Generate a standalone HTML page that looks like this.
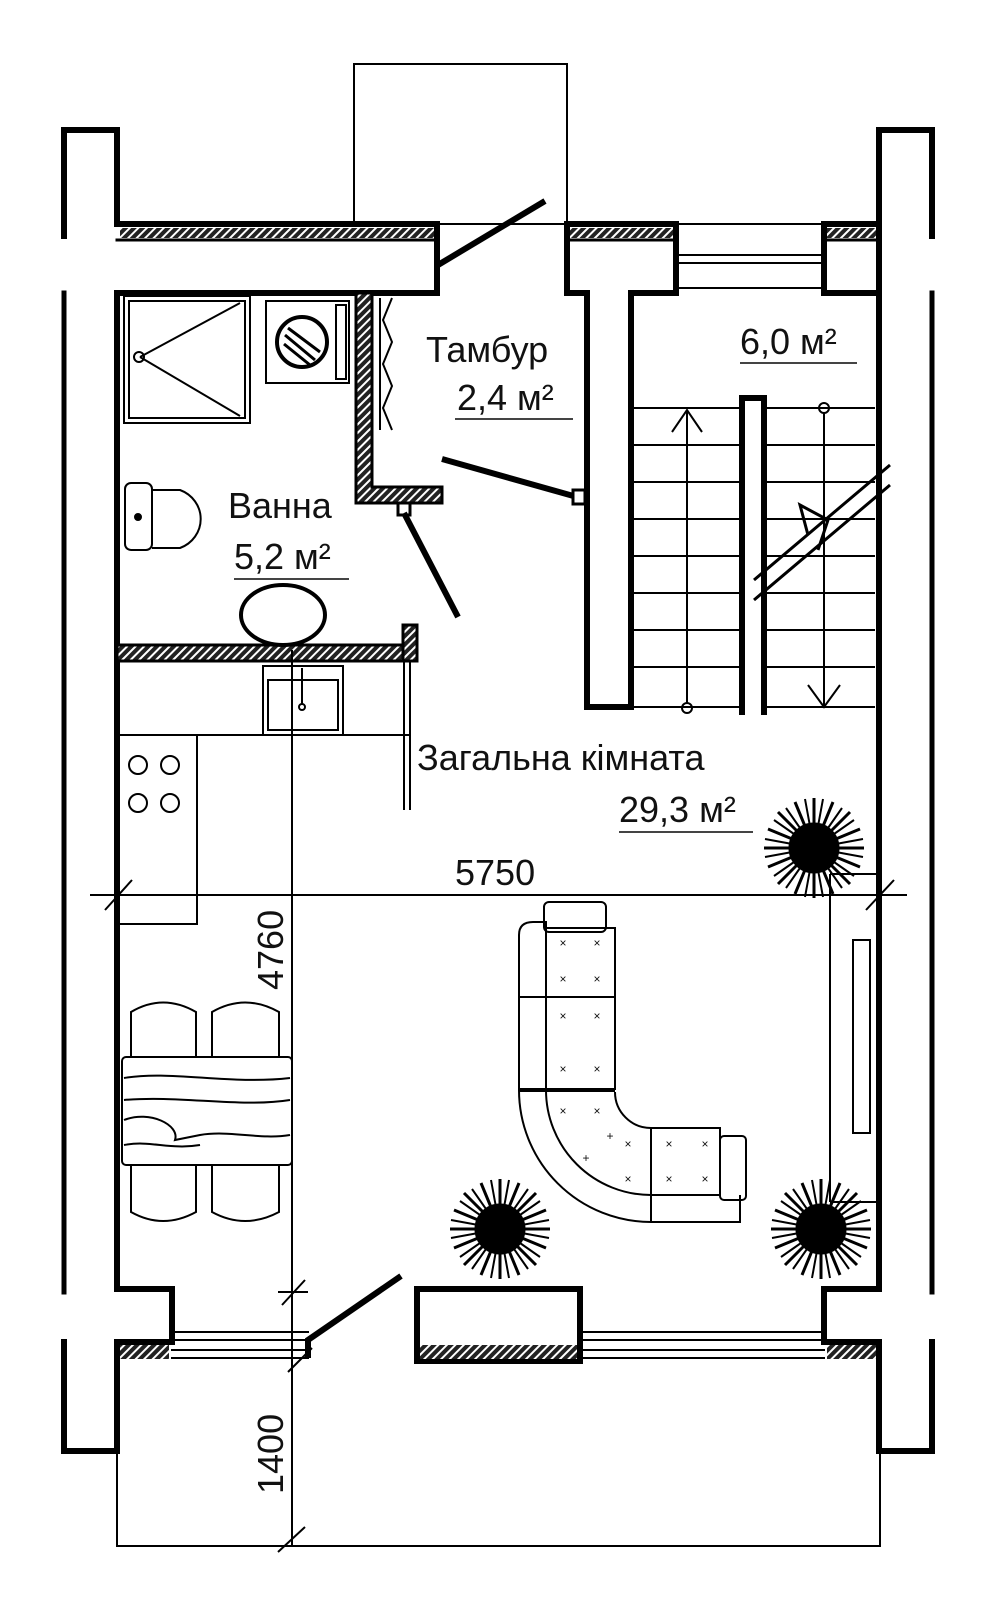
<!DOCTYPE html>
<html><head><meta charset="utf-8"><style>
html,body{margin:0;padding:0;background:#fff}
svg{display:block}
text{font-family:"Liberation Sans",sans-serif;fill:#111}
</style></head><body>
<svg width="1000" height="1624" viewBox="0 0 1000 1624" xmlns="http://www.w3.org/2000/svg">
<defs>
<pattern id="h" width="6" height="6" patternUnits="userSpaceOnUse" patternTransform="rotate(45)">
<rect width="6" height="6" fill="#222"/><rect width="2" height="6" fill="#fff"/>
</pattern>
<g id="pl" stroke="#000" stroke-width="3">
<circle r="24" fill="#000"/>
<path d="M-50 0 H50 M0 -50 V50 M-36 -36 L36 36 M-36 36 L36 -36 M-46 -19 L46 19 M-46 19 L46 -19 M-19 -46 L19 46 M19 -46 L-19 46"/>
<path d="M-40 -28 L40 28 M-40 28 L40 -28 M-28 -40 L28 40 M28 -40 L-28 40 M-49 -9 L49 9 M-49 9 L49 -9 M-9 -49 L9 49 M9 -49 L-9 49" stroke-width="2"/>
</g>
</defs>
<g fill="none" stroke="#000" stroke-linecap="square">
<rect x="354" y="64" width="213" height="160" stroke-width="2"/>
<path d="M64 236 V130 H117 V224" stroke-width="6"/>
<path d="M64 293 V1292" stroke-width="5"/>
<path d="M64 1342 V1451 H117 V1342" stroke-width="6"/>
<path d="M932 236 V130 H879 V224" stroke-width="6"/>
<path d="M932 293 V1292" stroke-width="5"/>
<path d="M932 1342 V1451 H879 V1342" stroke-width="6"/>
<path d="M117 224 H437 V293 H117 V1289 H172 V1342 H117" stroke-width="6"/>
<path d="M117 240 H437" stroke-width="3"/>
<path d="M567 224 V293 H587 V707 H631 V293 H676 V224 Z" stroke-width="6"/>
<path d="M567 240 H676" stroke-width="3"/>
<path d="M824 224 H879 V1289 H824 V1342 H879" stroke-width="6"/>
<path d="M824 224 V293 H879" stroke-width="6"/>
<path d="M824 240 H879" stroke-width="3"/>
<path d="M676 224 H824 M676 255 H824 M676 263 H824 M676 288 H824" stroke-width="2"/>
<path d="M172 1332 H308 M172 1340 H308 M172 1350 H308 M172 1358 H308" stroke-width="2"/>
<path d="M580 1332 H824 M580 1340 H824 M580 1350 H824 M580 1358 H824" stroke-width="2"/>
<rect x="417" y="1289" width="163" height="72" stroke-width="6"/>
<path d="M117 1451 V1546 H880 V1451" stroke-width="2"/>
<!-- stair stringer -->
<path d="M742 398 V712 M764 398 V712 M742 398 H764" stroke-width="6"/>
</g>
<rect x="120" y="228" width="314" height="10" fill="url(#h)"/>
<rect x="570" y="228" width="103" height="10" fill="url(#h)"/>
<rect x="827" y="228" width="49" height="10" fill="url(#h)"/>
<rect x="120" y="1345" width="49" height="14" fill="url(#h)"/>
<rect x="827" y="1345" width="49" height="14" fill="url(#h)"/>
<rect x="420" y="1345" width="157" height="14" fill="url(#h)"/>
<path d="M356 293 V503 H442 V487 H372 V293 Z" fill="url(#h)" stroke="#000" stroke-width="3"/>
<rect x="398" y="503" width="12" height="12" fill="#fff" stroke="#000" stroke-width="3"/>
<rect x="117" y="645" width="298" height="16" fill="url(#h)" stroke="#000" stroke-width="3"/>
<rect x="403" y="625" width="14" height="36" fill="url(#h)" stroke="#000" stroke-width="3"/>
<g stroke="#000" stroke-width="6" fill="none">
<path d="M438 265 L545 201"/>
<path d="M442 459 L577 497"/>
<path d="M404 513 L458 617"/>
<path d="M308 1358 L308 1340 L401 1276"/>
</g>
<rect x="573" y="490" width="12" height="14" fill="#fff" stroke="#000" stroke-width="3"/>
<g stroke="#000" fill="none" stroke-width="2">
<rect x="124" y="296" width="126" height="127"/>
<rect x="129" y="301" width="116" height="117"/>
<path d="M140 357 L240 303 M140 357 L240 416"/>
<circle cx="139" cy="357" r="5"/>
<rect x="266" y="301" width="83" height="82"/>
<rect x="336" y="305" width="10" height="74"/>
<circle cx="302" cy="342" r="25" stroke-width="4"/>
<path d="M285 335 L315 360 M288 328 L320 352 M284 344 L310 365" stroke-width="3"/>
<rect x="125" y="483" width="27" height="67" rx="6"/>
<path d="M152 490 H180 A32 31 0 0 1 180 548 H152"/>
<circle cx="138" cy="517" r="3" fill="#000"/>
<ellipse cx="283" cy="615" rx="42" ry="30" stroke-width="4"/>
<path d="M392 298 L383 320 L392 342 L383 364 L392 386 L383 408 L392 430" stroke-width="2"/>
<path d="M380 298 V430"/>
<rect x="263" y="666" width="80" height="69"/>
<rect x="268" y="680" width="70" height="50"/>
<path d="M302 668 V705" />
<circle cx="302" cy="707" r="3"/>
<path d="M197 735 H410 M404 661 V810 M410 661 V810"/>
<rect x="117" y="735" width="80" height="189"/>
<circle cx="138" cy="765" r="9"/><circle cx="170" cy="765" r="9"/>
<circle cx="138" cy="803" r="9"/><circle cx="170" cy="803" r="9"/>
<path d="M631 408 H742 M631 445 H742 M631 482 H742 M631 519 H742 M631 556 H742 M631 593 H742 M631 630 H742 M631 667 H742 M631 707 H742"/>
<path d="M764 408 H875 M764 445 H875 M764 482 H875 M764 519 H875 M764 556 H875 M764 593 H875 M764 630 H875 M764 667 H875 M764 707 H875"/>
<path d="M687 703 V412 M672 432 L687 410 L702 432"/>
<circle cx="687" cy="708" r="5"/>
<path d="M824 413 V707 M808 685 L824 707 L840 685"/>
<circle cx="824" cy="408" r="5"/>
<path d="M754 580 L890 465 M754 600 L890 485 M808 535 L800 505 L828 520 L818 550" stroke-width="3"/>
<path d="M90 895 H907 M292 650 V1546 M105 910 L132 880 M866 910 L894 880 M278 1292 H308 M282 1305 L305 1280 M288 1372 L312 1348 M278 1552 L305 1527"/>
<rect x="853" y="940" width="17" height="193"/>
<path d="M830 874 V1202 M830 874 H879 M830 1202 H879"/>
<rect x="122" y="1057" width="170" height="108" rx="4"/>
<path d="M124 1078 C170 1070 230 1085 290 1078 M124 1100 C180 1095 240 1108 290 1100 M124 1120 C150 1110 180 1125 175 1140 L200 1135 C230 1130 260 1140 290 1135 M124 1145 C150 1140 170 1150 200 1145"/>
<path d="M131 1057 V1012 Q163 993 196 1012 V1057 M212 1057 V1012 Q245 993 279 1012 V1057"/>
<path d="M131 1165 V1212 Q163 1230 196 1212 V1165 M212 1165 V1212 Q245 1230 279 1212 V1165"/>
<rect x="544" y="902" width="62" height="30" rx="5"/>
<path d="M546 928 H615 V1090 M519 1090 V935 Q519 922 533 922 H546 V1090"/>
<path d="M519 997 H615" />
<path d="M519 1090 H615" stroke-width="4"/>
<path d="M519 1090 A132 132 0 0 0 651 1222 H740 V1195 M546 1090 A105 105 0 0 0 651 1195 H720 V1128 H651 A36 36 0 0 1 615 1092 M651 1128 V1222"/>
<rect x="720" y="1136" width="26" height="64" rx="4"/>
</g>
<g font-size="12" font-family="Liberation Sans" text-anchor="middle" fill="#000">
<text x="563" y="947">×</text><text x="597" y="947">×</text>
<text x="563" y="983">×</text><text x="597" y="983">×</text>
<text x="563" y="1020">×</text><text x="597" y="1020">×</text>
<text x="563" y="1073">×</text><text x="597" y="1073">×</text>
<text x="563" y="1115">×</text><text x="597" y="1115">×</text>
<text x="628" y="1148">×</text><text x="628" y="1183">×</text>
<text x="669" y="1148">×</text><text x="669" y="1183">×</text>
<text x="705" y="1148">×</text><text x="705" y="1183">×</text>
<text x="610" y="1140">+</text><text x="586" y="1162">+</text>
</g>
<use href="#pl" x="814" y="848"/>
<use href="#pl" x="500" y="1229"/>
<use href="#pl" x="821" y="1229"/>
<g font-size="36">
<text x="426" y="362">Тамбур</text>
<text x="457" y="410">2,4 м²</text>
<text x="740" y="354">6,0 м²</text>
<text x="228" y="518">Ванна</text>
<text x="234" y="569">5,2 м²</text>
<text x="417" y="770">Загальна кімната</text>
<text x="619" y="822">29,3 м²</text>
<text x="455" y="885">5750</text>
<text transform="translate(283,990) rotate(-90)">4760</text>
<text transform="translate(283,1494) rotate(-90)">1400</text>
</g>
<g stroke="#444" stroke-width="2">
<path d="M455 419 H573 M740 363 H857 M234 579 H349 M619 832 H753"/>
</g>
</svg>
</body></html>
